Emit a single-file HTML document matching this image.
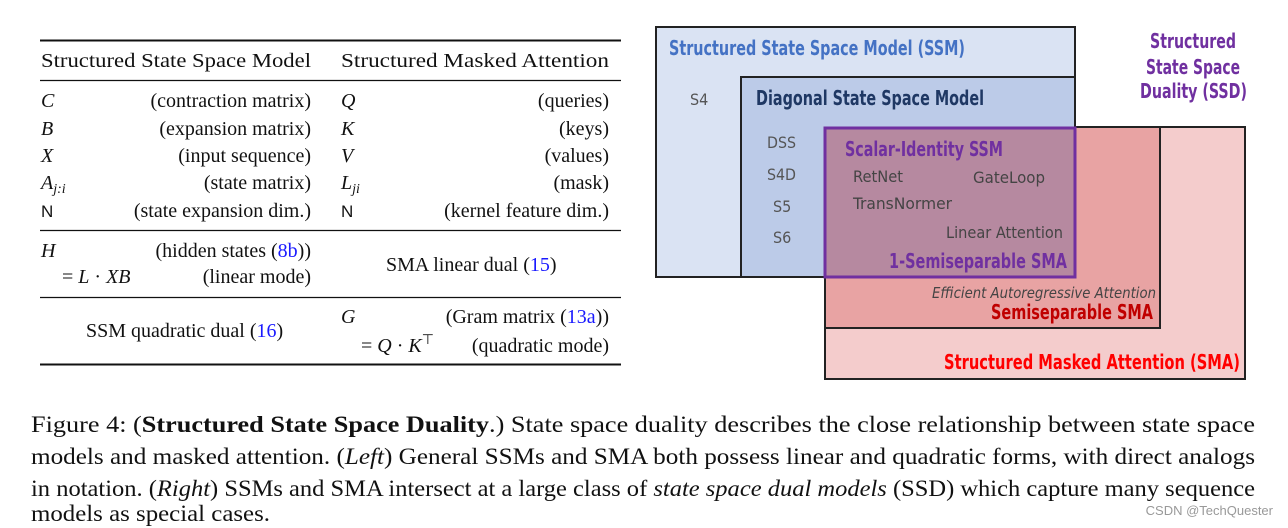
<!DOCTYPE html>
<html><head><meta charset="utf-8"><style>
html,body{margin:0;padding:0;background:#fff;width:1288px;height:528px;overflow:hidden}
svg{display:block}
.s{font-family:"Liberation Serif",serif;font-size:20px;fill:#111}
.d{font-family:"DejaVu Sans Condensed","DejaVu Sans","Liberation Sans",sans-serif}
.b{font-weight:bold}
.lk{fill:#1a1aff}
.cap{font-family:"Liberation Serif",serif;font-size:23px;fill:#111}
</style></head><body>
<svg width="1288" height="528" viewBox="0 0 1288 528" xmlns="http://www.w3.org/2000/svg">
<line x1="40" y1="40.5" x2="621" y2="40.5" stroke="#111" stroke-width="2"/>
<line x1="40" y1="80.5" x2="621" y2="80.5" stroke="#111" stroke-width="1.2"/>
<line x1="40" y1="230.5" x2="621" y2="230.5" stroke="#111" stroke-width="1.2"/>
<line x1="40" y1="297.5" x2="621" y2="297.5" stroke="#111" stroke-width="1.2"/>
<line x1="40" y1="364.5" x2="621" y2="364.5" stroke="#111" stroke-width="2"/>
<g class="s">
<text x="41" y="67" textLength="270" lengthAdjust="spacingAndGlyphs">Structured State Space Model</text>
<text x="341" y="67" textLength="268" lengthAdjust="spacingAndGlyphs">Structured Masked Attention</text>
<text x="41" y="107" font-style="italic">C</text>
<text x="41" y="135" font-style="italic">B</text>
<text x="41" y="162" font-style="italic">X</text>
<text x="41" y="189" font-style="italic">A<tspan font-size="14" dy="4">j:i</tspan></text>
<text x="41" y="217" font-family="Liberation Sans" font-size="17">N</text>
<text x="311" y="107" text-anchor="end">(contraction matrix)</text>
<text x="311" y="135" text-anchor="end">(expansion matrix)</text>
<text x="311" y="162" text-anchor="end">(input sequence)</text>
<text x="311" y="189" text-anchor="end">(state matrix)</text>
<text x="311" y="217" text-anchor="end">(state expansion dim.)</text>
<text x="341" y="107" font-style="italic">Q</text>
<text x="341" y="135" font-style="italic">K</text>
<text x="341" y="162" font-style="italic">V</text>
<text x="341" y="189" font-style="italic">L<tspan font-size="14" dy="4">ji</tspan></text>
<text x="341" y="217" font-family="Liberation Sans" font-size="17">N</text>
<text x="609" y="107" text-anchor="end">(queries)</text>
<text x="609" y="135" text-anchor="end">(keys)</text>
<text x="609" y="162" text-anchor="end">(values)</text>
<text x="609" y="189" text-anchor="end">(mask)</text>
<text x="609" y="217" text-anchor="end">(kernel feature dim.)</text>
<text x="41" y="257" font-style="italic">H</text>
<text x="311" y="257" text-anchor="end">(hidden states (<tspan class="lk">8b</tspan>))</text>
<text x="62" y="283">= <tspan font-style="italic">L</tspan> · <tspan font-style="italic">XB</tspan></text>
<text x="311" y="283" text-anchor="end">(linear mode)</text>
<text x="386" y="271">SMA linear dual (<tspan class="lk">15</tspan>)</text>
<text x="86" y="337">SSM quadratic dual (<tspan class="lk">16</tspan>)</text>
<text x="341" y="323" font-style="italic">G</text>
<text x="609" y="323" text-anchor="end">(Gram matrix (<tspan class="lk">13a</tspan>))</text>
<text x="361" y="352">= <tspan font-style="italic">Q</tspan> · <tspan font-style="italic">K</tspan><tspan font-size="14" dy="-8">⊤</tspan></text>
<text x="609" y="352" text-anchor="end">(quadratic mode)</text>
</g>

<rect x="825" y="127" width="420" height="252" fill="#f4cccc" stroke="#222" stroke-width="2"/>
<rect x="825" y="127" width="335" height="201" fill="#e8a3a3" stroke="#222" stroke-width="2"/>
<rect x="656" y="27" width="419" height="250" fill="#dae3f3" stroke="#222" stroke-width="2"/>
<rect x="741" y="77" width="334" height="200" fill="#bccbe8" stroke="#222" stroke-width="2"/>
<rect x="825" y="128" width="250" height="149" fill="#b689a0" stroke="#7030a0" stroke-width="3"/>
<g class="d">
<text x="669" y="55" font-size="20" class="b" fill="#4472c4" textLength="296" lengthAdjust="spacingAndGlyphs">Structured State Space Model (SSM)</text>
<text x="690" y="105" font-size="16" fill="#555">S4</text>
<text x="756" y="105" font-size="20" class="b" fill="#1f3864" textLength="228" lengthAdjust="spacingAndGlyphs">Diagonal State Space Model</text>
<text x="767" y="148" font-size="16" fill="#555" textLength="29" lengthAdjust="spacingAndGlyphs">DSS</text>
<text x="767" y="180" font-size="16" fill="#555" textLength="29" lengthAdjust="spacingAndGlyphs">S4D</text>
<text x="773" y="212" font-size="16" fill="#555">S5</text>
<text x="773" y="243" font-size="16" fill="#555">S6</text>
<text x="845" y="156" font-size="20" class="b" fill="#7030a0" textLength="158" lengthAdjust="spacingAndGlyphs">Scalar-Identity SSM</text>
<text x="853" y="182" font-size="16" fill="#444" textLength="50" lengthAdjust="spacingAndGlyphs">RetNet</text>
<text x="973" y="183" font-size="16" fill="#444" textLength="72" lengthAdjust="spacingAndGlyphs">GateLoop</text>
<text x="853" y="209" font-size="16" fill="#444" textLength="99" lengthAdjust="spacingAndGlyphs">TransNormer</text>
<text x="946" y="238" font-size="16" fill="#444" textLength="117" lengthAdjust="spacingAndGlyphs">Linear Attention</text>
<text x="889" y="268" font-size="20" class="b" fill="#7030a0" textLength="178" lengthAdjust="spacingAndGlyphs">1-Semiseparable SMA</text>
<text x="932" y="298" font-size="15" font-style="italic" fill="#444" textLength="224" lengthAdjust="spacingAndGlyphs">Efficient Autoregressive Attention</text>
<text x="991" y="319" font-size="20" class="b" fill="#c00000" textLength="162" lengthAdjust="spacingAndGlyphs">Semiseparable SMA</text>
<text x="944" y="369" font-size="20" class="b" fill="#ff0000" textLength="296" lengthAdjust="spacingAndGlyphs">Structured Masked Attention (SMA)</text>
<text x="1150" y="48" font-size="20" class="b" fill="#7030a0" textLength="86" lengthAdjust="spacingAndGlyphs">Structured</text>
<text x="1146" y="74" font-size="20" class="b" fill="#7030a0" textLength="94" lengthAdjust="spacingAndGlyphs">State Space</text>
<text x="1140" y="98" font-size="20" class="b" fill="#7030a0" textLength="107" lengthAdjust="spacingAndGlyphs">Duality (SSD)</text>
</g>

<g class="cap">
<text x="31" y="432" textLength="1224" lengthAdjust="spacingAndGlyphs">Figure 4: (<tspan font-weight="bold">Structured State Space Duality</tspan>.)  State space duality describes the close relationship between state space</text>
<text x="31" y="464" textLength="1224" lengthAdjust="spacingAndGlyphs">models and masked attention. (<tspan font-style="italic">Left</tspan>) General SSMs and SMA both possess linear and quadratic forms, with direct analogs</text>
<text x="31" y="496" textLength="1224" lengthAdjust="spacingAndGlyphs">in notation. (<tspan font-style="italic">Right</tspan>) SSMs and SMA intersect at a large class of <tspan font-style="italic">state space dual models</tspan> (SSD) which capture many sequence</text>
<text x="31" y="521" textLength="239" lengthAdjust="spacingAndGlyphs">models as special cases.</text>
</g>
<text x="1273" y="515" text-anchor="end" font-family="Liberation Sans,sans-serif" font-size="13" fill="#999">CSDN @TechQuester</text>
</svg>
</body></html>
